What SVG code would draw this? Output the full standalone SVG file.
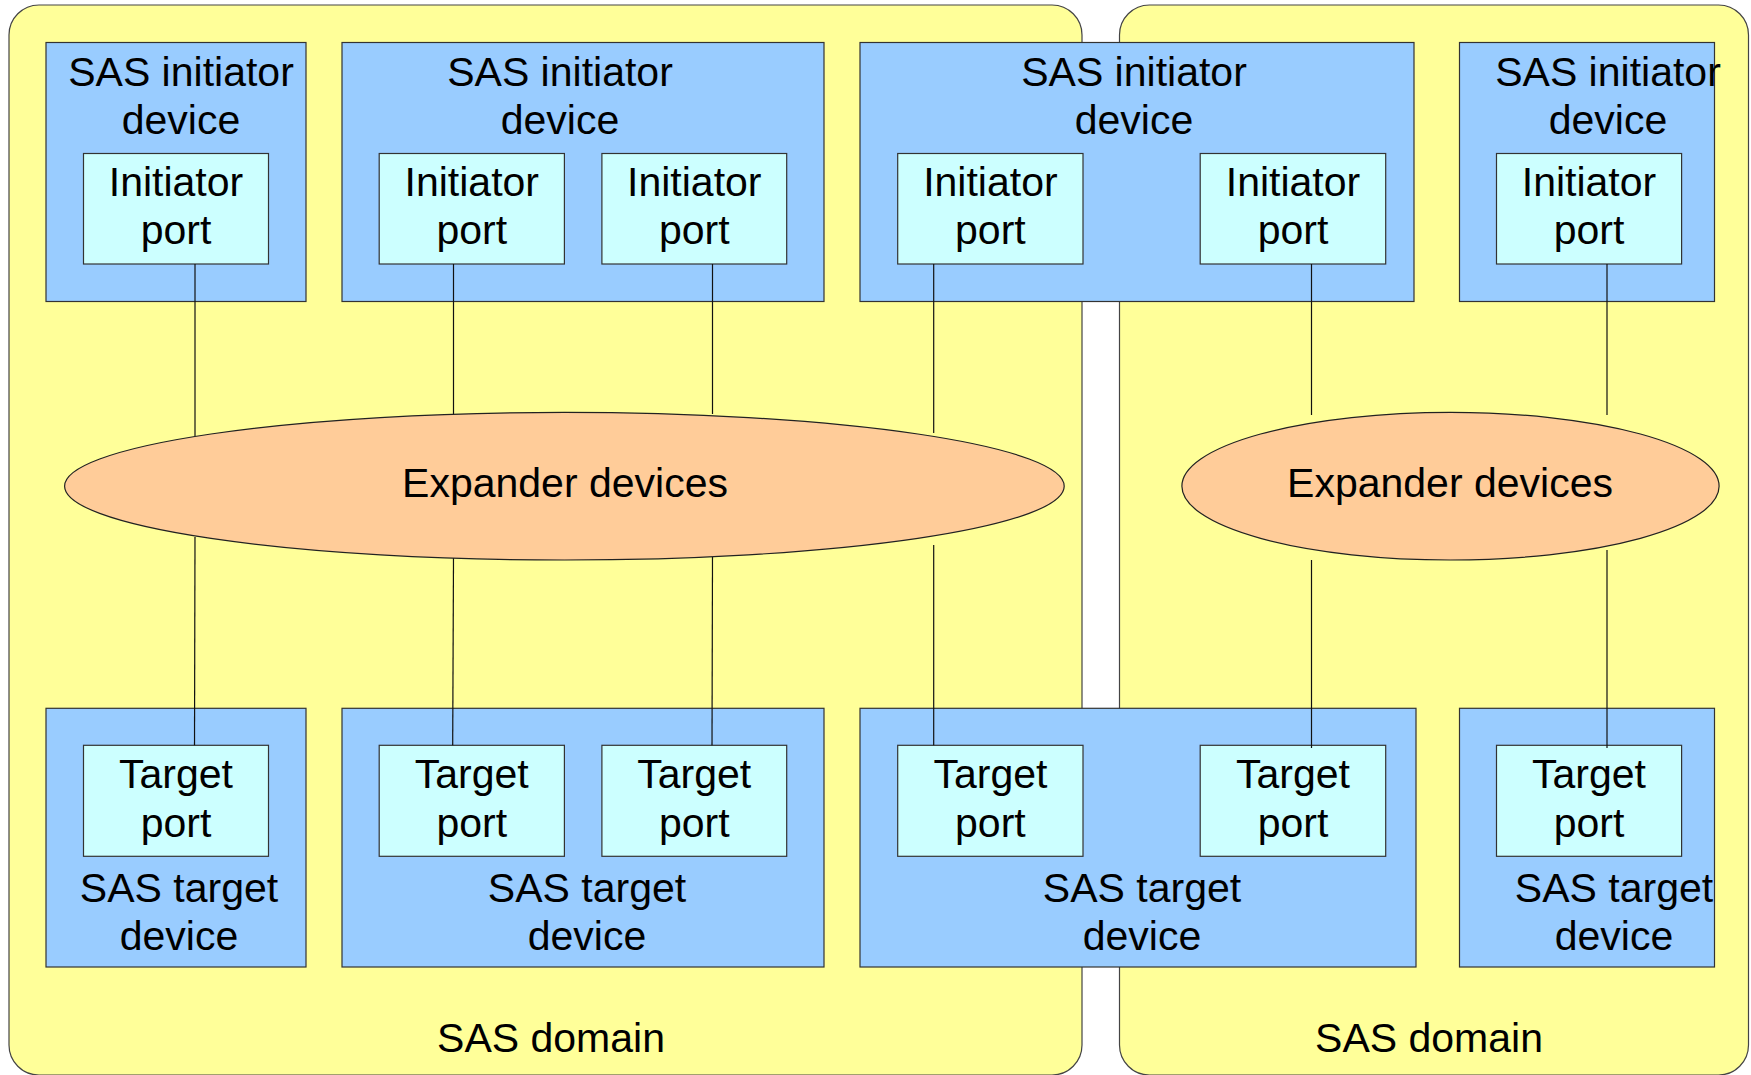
<svg xmlns="http://www.w3.org/2000/svg" width="1751" height="1075" viewBox="0 0 1751 1075">
<style>
.domain{fill:#FFFF99;stroke:#444;stroke-width:1.2}
.dev{fill:#99CCFF;stroke:#333;stroke-width:1.2}
.port{fill:#CCFFFF;stroke:#333;stroke-width:1.2}
.exp{fill:#FFCC99;stroke:#222;stroke-width:1.2}
.conn line{stroke:#111;stroke-width:1.2}
text{font-family:"Liberation Sans",Arial,sans-serif;font-size:41px;fill:#000;text-anchor:middle}
</style>
<rect width="1751" height="1075" fill="#ffffff"/>
<g id="domain1"><rect class="domain" x="9" y="5" width="1073" height="1070" rx="30" ry="30"/><text x="551" y="1052">SAS domain</text></g>
<g id="domain2"><rect class="domain" x="1119.5" y="5" width="629" height="1070" rx="30" ry="30"/><text x="1429" y="1052">SAS domain</text></g>

<g id="init-dev1"><rect class="dev" x="46" y="42.5" width="260" height="259"/><text x="181" y="85.7">SAS initiator</text><text x="181" y="134">device</text></g>
<g id="init-dev2"><rect class="dev" x="342" y="42.5" width="482" height="259"/><text x="560" y="85.7">SAS initiator</text><text x="560" y="134">device</text></g>
<g id="init-dev3"><rect class="dev" x="860" y="42.5" width="554" height="259"/><text x="1134" y="85.7">SAS initiator</text><text x="1134" y="134">device</text></g>
<g id="init-dev4"><rect class="dev" x="1459.5" y="42.5" width="255" height="259"/><text x="1608" y="85.7">SAS initiator</text><text x="1608" y="134">device</text></g>

<g id="init-port1"><rect class="port" x="83.5" y="153.5" width="185" height="110.5"/><text x="176" y="196">Initiator</text><text x="176" y="244">port</text></g>
<g id="init-port2a"><rect class="port" x="379.2" y="153.5" width="185.2" height="110.5"/><text x="471.8" y="196">Initiator</text><text x="471.8" y="244">port</text></g>
<g id="init-port2b"><rect class="port" x="601.9" y="153.5" width="184.8" height="110.5"/><text x="694.3" y="196">Initiator</text><text x="694.3" y="244">port</text></g>
<g id="init-port3a"><rect class="port" x="897.7" y="153.5" width="185.3" height="110.5"/><text x="990.4" y="196">Initiator</text><text x="990.4" y="244">port</text></g>
<g id="init-port3b"><rect class="port" x="1200.2" y="153.5" width="185.5" height="110.5"/><text x="1293" y="196">Initiator</text><text x="1293" y="244">port</text></g>
<g id="init-port4"><rect class="port" x="1496.5" y="153.5" width="185.1" height="110.5"/><text x="1589" y="196">Initiator</text><text x="1589" y="244">port</text></g>

<g id="tgt-dev1"><rect class="dev" x="46" y="708.3" width="260" height="258.7"/><text x="179" y="902">SAS target</text><text x="179" y="950">device</text></g>
<g id="tgt-dev2"><rect class="dev" x="342" y="708.3" width="482" height="258.7"/><text x="587" y="902">SAS target</text><text x="587" y="950">device</text></g>
<g id="tgt-dev3"><rect class="dev" x="860" y="708.3" width="556" height="258.7"/><text x="1142" y="902">SAS target</text><text x="1142" y="950">device</text></g>
<g id="tgt-dev4"><rect class="dev" x="1459.5" y="708.3" width="255" height="258.7"/><text x="1614" y="902">SAS target</text><text x="1614" y="950">device</text></g>

<g id="tgt-port1"><rect class="port" x="83.5" y="745.3" width="185" height="111"/><text x="176" y="788.3">Target</text><text x="176" y="836.7">port</text></g>
<g id="tgt-port2a"><rect class="port" x="379.2" y="745.3" width="185.2" height="111"/><text x="471.8" y="788.3">Target</text><text x="471.8" y="836.7">port</text></g>
<g id="tgt-port2b"><rect class="port" x="601.9" y="745.3" width="184.8" height="111"/><text x="694.3" y="788.3">Target</text><text x="694.3" y="836.7">port</text></g>
<g id="tgt-port3a"><rect class="port" x="897.7" y="745.3" width="185.3" height="111"/><text x="990.4" y="788.3">Target</text><text x="990.4" y="836.7">port</text></g>
<g id="tgt-port3b"><rect class="port" x="1200.2" y="745.3" width="185.5" height="111"/><text x="1293" y="788.3">Target</text><text x="1293" y="836.7">port</text></g>
<g id="tgt-port4"><rect class="port" x="1496.5" y="745.3" width="185.1" height="111"/><text x="1589" y="788.3">Target</text><text x="1589" y="836.7">port</text></g>

<g id="connectors" class="conn">
<line x1="195" y1="264" x2="195" y2="436"/>
<line x1="453.5" y1="264" x2="453.5" y2="414"/>
<line x1="712.5" y1="264" x2="712.5" y2="414"/>
<line x1="933.7" y1="264" x2="933.7" y2="433"/>
<line x1="1311.5" y1="264" x2="1311.5" y2="415"/>
<line x1="1607" y1="264" x2="1607" y2="415"/>
<line x1="195" y1="537" x2="194.5" y2="745.3"/>
<line x1="453.5" y1="558" x2="452.7" y2="745.3"/>
<line x1="712.5" y1="557" x2="712" y2="745.3"/>
<line x1="933.7" y1="545" x2="933.7" y2="745.3"/>
<line x1="1311.5" y1="560" x2="1311.5" y2="748"/>
<line x1="1607" y1="550" x2="1607" y2="748"/>
</g>

<g id="expander1"><ellipse class="exp" cx="564.4" cy="486.2" rx="499.8" ry="73.8"/><text x="565" y="496.7">Expander devices</text></g>
<g id="expander2"><ellipse class="exp" cx="1450.5" cy="486.2" rx="268.6" ry="73.8"/><text x="1450" y="496.7">Expander devices</text></g>
</svg>
